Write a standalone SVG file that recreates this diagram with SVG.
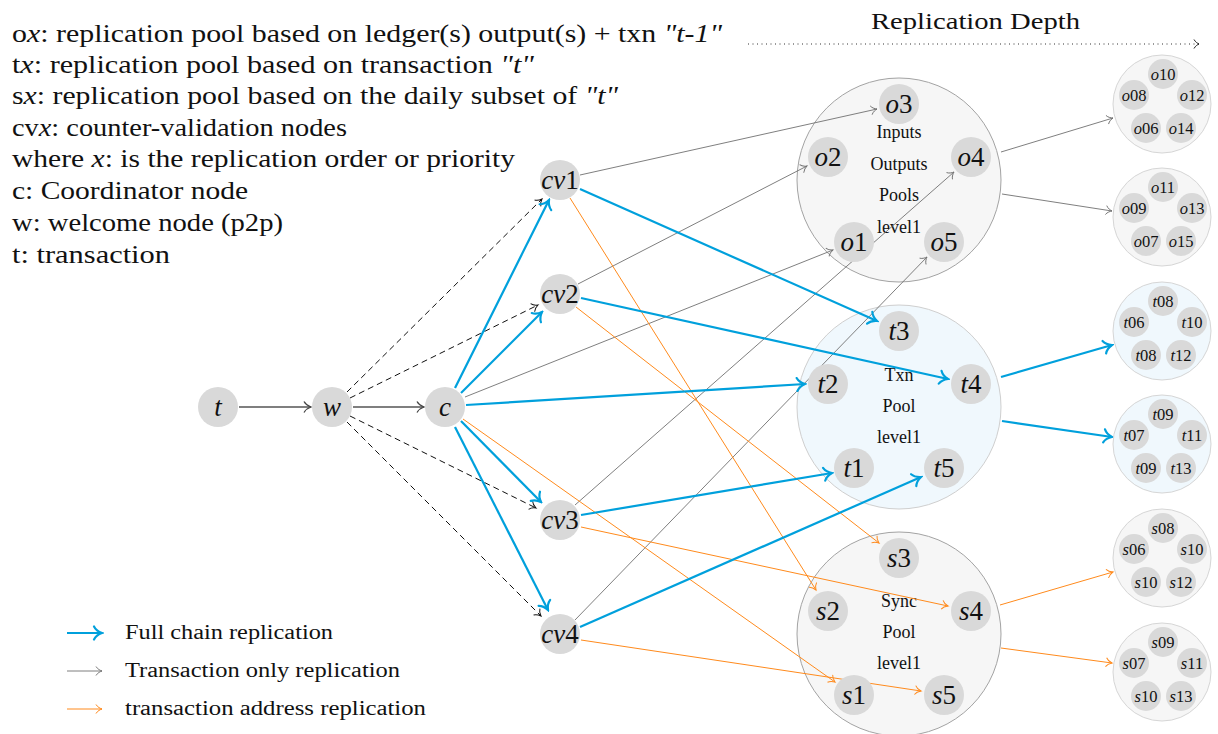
<svg xmlns="http://www.w3.org/2000/svg" width="1218" height="734" viewBox="0 0 1218 734" font-family="'Liberation Serif', 'DejaVu Serif', serif">
<style>
text{font-family:'Liberation Serif','DejaVu Serif',serif;fill:#111}
.it{font-style:italic}
.dsc{font-family:'Liberation Serif','Times New Roman',serif;font-size:26px}
.nd{fill:#d9d9d9}
.sn{fill:#d9d9d9}
.nl{font-size:27px;text-anchor:middle}
.sl{font-size:16.5px;text-anchor:middle}
.pl{font-size:18px;text-anchor:middle}
.poolG{fill:#f6f6f6;stroke:#a3a3a3;stroke-width:1}
.poolB{fill:#f0f8fd;stroke:#cfcfcf;stroke-width:1}
.spG{fill:#f6f6f6;stroke:#d6d6d6;stroke-width:1}
.spB{fill:#f0f8fd;stroke:#d6d6d6;stroke-width:1}
.blue{stroke:#00a0dc;stroke-width:2.2;fill:none;marker-end:url(#ab)}
.gray{stroke:#707070;stroke-width:0.9;fill:none;marker-end:url(#ag)}
.orng{stroke:#ff8a1c;stroke-width:1;fill:none;marker-end:url(#ao)}
.dash{stroke:#111;stroke-width:1;stroke-dasharray:6 4;fill:none;marker-end:url(#ak)}
.dark{stroke:#555;stroke-width:1.4;fill:none;marker-end:url(#ad)}
.leg{font-size:20px}
</style>
<defs>
<marker id="ab" markerUnits="userSpaceOnUse" viewBox="-10 -8 12 16" markerWidth="12" markerHeight="16" refX="0" refY="0" orient="auto"><path d="M-8,-6.5 C-6,-2.5 -2,-0.7 0,0 C-2,0.7 -6,2.5 -8,6.5" fill="none" stroke="#00a0dc" stroke-width="2.2" stroke-linecap="round"/></marker>
<marker id="ag" markerUnits="userSpaceOnUse" viewBox="-8 -6 10 12" markerWidth="10" markerHeight="12" refX="0" refY="0" orient="auto"><path d="M-6,-4.5 C-4.5,-1.8 -1.5,-0.5 0,0 C-1.5,0.5 -4.5,1.8 -6,4.5" fill="none" stroke="#707070" stroke-width="0.9"/></marker>
<marker id="ao" markerUnits="userSpaceOnUse" viewBox="-8 -6 10 12" markerWidth="10" markerHeight="12" refX="0" refY="0" orient="auto"><path d="M-6,-4.5 C-4.5,-1.8 -1.5,-0.5 0,0 C-1.5,0.5 -4.5,1.8 -6,4.5" fill="none" stroke="#ff8a1c" stroke-width="1"/></marker>
<marker id="ak" markerUnits="userSpaceOnUse" viewBox="-8 -6 10 12" markerWidth="10" markerHeight="12" refX="0" refY="0" orient="auto"><path d="M-6,-4.5 C-4.5,-1.8 -1.5,-0.5 0,0 C-1.5,0.5 -4.5,1.8 -6,4.5" fill="none" stroke="#111" stroke-width="1"/></marker>
<marker id="ad" markerUnits="userSpaceOnUse" viewBox="-9 -7 11 14" markerWidth="11" markerHeight="14" refX="0" refY="0" orient="auto"><path d="M-7,-5.5 C-5,-2 -1.8,-0.6 0,0 C-1.8,0.6 -5,2 -7,5.5" fill="none" stroke="#444" stroke-width="1.3"/></marker>
<marker id="adot" markerUnits="userSpaceOnUse" viewBox="-8 -6 10 12" markerWidth="10" markerHeight="12" refX="0" refY="0" orient="auto"><path d="M-5,-4.5 C-3.5,-1.8 -1.2,-0.5 0,0 C-1.2,0.5 -3.5,1.8 -5,4.5" fill="none" stroke="#222" stroke-width="1"/></marker>
</defs>

<g id="description" font-family="'Liberation Serif', serif" font-size="26">
<text class="dsc" x="12" y="42" textLength="710" lengthAdjust="spacingAndGlyphs">o<tspan class="it">x</tspan>: replication pool based on ledger(s) output(s) + txn  <tspan class="it">"t-1"</tspan></text>
<text class="dsc" x="12" y="73" textLength="522" lengthAdjust="spacingAndGlyphs">t<tspan class="it">x</tspan>: replication pool based on transaction <tspan class="it">"t"</tspan></text>
<text class="dsc" x="12" y="104" textLength="606" lengthAdjust="spacingAndGlyphs">s<tspan class="it">x</tspan>: replication pool based on the daily subset of <tspan class="it">"t"</tspan></text>
<text class="dsc" x="12" y="136" textLength="335" lengthAdjust="spacingAndGlyphs">cv<tspan class="it">x</tspan>: counter-validation nodes</text>
<text class="dsc" x="12" y="167" textLength="503" lengthAdjust="spacingAndGlyphs">where <tspan class="it">x</tspan>: is the replication order or priority</text>
<text class="dsc" x="12" y="199" textLength="236" lengthAdjust="spacingAndGlyphs">c: Coordinator node</text>
<text class="dsc" x="12" y="231" textLength="271" lengthAdjust="spacingAndGlyphs">w: welcome node (p2p)</text>
<text class="dsc" x="12" y="263" textLength="158" lengthAdjust="spacingAndGlyphs">t: transaction</text>
</g>

<g id="replication-depth">
<text x="871" y="29" font-size="24" textLength="209" lengthAdjust="spacingAndGlyphs">Replication Depth</text>
<line x1="748" y1="44" x2="1199" y2="44" stroke="#333" stroke-width="1" stroke-dasharray="1 3.5" marker-end="url(#adot)"/>
</g>

<g id="legend">
<line x1="67" y1="633" x2="102" y2="633" class="blue"/>
<text class="leg" x="125" y="639" textLength="208" lengthAdjust="spacingAndGlyphs">Full chain replication</text>
<line x1="67" y1="671" x2="102" y2="671" class="gray"/>
<text class="leg" x="125" y="677" textLength="275" lengthAdjust="spacingAndGlyphs">Transaction only replication</text>
<line x1="67" y1="709" x2="102" y2="709" class="orng"/>
<text class="leg" x="125" y="715" textLength="301" lengthAdjust="spacingAndGlyphs">transaction address replication</text>
</g>

<g id="pool-outputs">
<circle cx="899" cy="180" r="102" class="poolG"/>
<text class="pl" x="899" y="138">Inputs</text>
<text class="pl" x="899" y="170">Outputs</text>
<text class="pl" x="899" y="201">Pools</text>
<text class="pl" x="899" y="233">level1</text>
</g>
<g id="pool-txn">
<circle cx="899" cy="407" r="102" class="poolB"/>
<text class="pl" x="899" y="381">Txn</text>
<text class="pl" x="899" y="412">Pool</text>
<text class="pl" x="899" y="443">level1</text>
</g>
<g id="pool-sync">
<circle cx="899" cy="634" r="102" class="poolG"/>
<text class="pl" x="899" y="607">Sync</text>
<text class="pl" x="899" y="638">Pool</text>
<text class="pl" x="899" y="669">level1</text>
</g>

<g id="connectors">
<line class="dark" x1="239" y1="407" x2="311" y2="407"/>
<line class="dark" x1="353" y1="407" x2="424" y2="407"/>
<line class="dash" x1="347" y1="392" x2="542" y2="199"/>
<line class="dash" x1="350" y1="398" x2="538" y2="305"/>
<line class="dash" x1="350" y1="416" x2="536" y2="508"/>
<line class="dash" x1="347" y1="422" x2="541" y2="616"/>
<line class="gray" x1="580" y1="175" x2="877" y2="109"/>
<line class="gray" x1="578" y1="284" x2="807" y2="166"/>
<line class="gray" x1="465" y1="397" x2="833" y2="250"/>
<line class="gray" x1="575" y1="505" x2="954" y2="172"/>
<line class="gray" x1="575" y1="620" x2="927" y2="257"/>
<line class="gray" x1="1001" y1="152" x2="1113" y2="118"/>
<line class="gray" x1="1002" y1="194" x2="1112" y2="211"/>
<line class="orng" x1="570" y1="198" x2="816" y2="590"/>
<line class="orng" x1="576" y1="307" x2="879" y2="543"/>
<line class="orng" x1="463" y1="419" x2="835" y2="682"/>
<line class="orng" x1="581" y1="527" x2="948" y2="606"/>
<line class="orng" x1="581" y1="640" x2="921" y2="691"/>
<line class="orng" x1="1000" y1="605" x2="1113" y2="572"/>
<line class="orng" x1="1001" y1="648" x2="1112" y2="663"/>
<line class="blue" x1="455" y1="388" x2="549" y2="200"/>
<line class="blue" x1="461" y1="393" x2="542" y2="312"/>
<line class="blue" x1="461" y1="421" x2="541" y2="502"/>
<line class="blue" x1="455" y1="427" x2="548" y2="610"/>
<line class="blue" x1="466" y1="405" x2="805" y2="384"/>
<line class="blue" x1="580" y1="189" x2="877" y2="321"/>
<line class="blue" x1="581" y1="298" x2="948" y2="379"/>
<line class="blue" x1="581" y1="515" x2="832" y2="473"/>
<line class="blue" x1="580" y1="627" x2="921" y2="477"/>
<line class="blue" x1="1001" y1="377" x2="1112" y2="345"/>
<line class="blue" x1="1002" y1="421" x2="1112" y2="437"/>
</g>

<g id="node-t"><circle cx="218" cy="407" r="20" class="nd"/><text class="nl it" x="218" y="416">t</text></g>
<g id="node-w"><circle cx="332" cy="407" r="20" class="nd"/><text class="nl it" x="332" y="416">w</text></g>
<g id="node-c"><circle cx="445" cy="407" r="20" class="nd"/><text class="nl it" x="445" y="416">c</text></g>
<g id="node-cv1"><circle cx="560" cy="180" r="20" class="nd"/><text class="nl" x="560" y="189"><tspan class="it">cv</tspan>1</text></g>
<g id="node-cv2"><circle cx="560" cy="294" r="20" class="nd"/><text class="nl" x="560" y="303"><tspan class="it">cv</tspan>2</text></g>
<g id="node-cv3"><circle cx="560" cy="520" r="20" class="nd"/><text class="nl" x="560" y="529"><tspan class="it">cv</tspan>3</text></g>
<g id="node-cv4"><circle cx="560" cy="634" r="20" class="nd"/><text class="nl" x="560" y="643"><tspan class="it">cv</tspan>4</text></g>

<g id="node-o3"><circle cx="899" cy="104" r="20" class="nd"/><text class="nl" x="899" y="113"><tspan class="it">o</tspan>3</text></g>
<g id="node-o2"><circle cx="828" cy="157" r="20" class="nd"/><text class="nl" x="828" y="166"><tspan class="it">o</tspan>2</text></g>
<g id="node-o4"><circle cx="971" cy="157" r="20" class="nd"/><text class="nl" x="971" y="166"><tspan class="it">o</tspan>4</text></g>
<g id="node-o1"><circle cx="854" cy="242" r="20" class="nd"/><text class="nl" x="854" y="251"><tspan class="it">o</tspan>1</text></g>
<g id="node-o5"><circle cx="944" cy="242" r="20" class="nd"/><text class="nl" x="944" y="251"><tspan class="it">o</tspan>5</text></g>

<g id="node-t3"><circle cx="899" cy="331" r="20" class="nd"/><text class="nl" x="899" y="340"><tspan class="it">t</tspan>3</text></g>
<g id="node-t2"><circle cx="828" cy="384" r="20" class="nd"/><text class="nl" x="828" y="393"><tspan class="it">t</tspan>2</text></g>
<g id="node-t4"><circle cx="971" cy="384" r="20" class="nd"/><text class="nl" x="971" y="393"><tspan class="it">t</tspan>4</text></g>
<g id="node-t1"><circle cx="854" cy="468" r="20" class="nd"/><text class="nl" x="854" y="477"><tspan class="it">t</tspan>1</text></g>
<g id="node-t5"><circle cx="944" cy="468" r="20" class="nd"/><text class="nl" x="944" y="477"><tspan class="it">t</tspan>5</text></g>

<g id="node-s3"><circle cx="899" cy="558" r="20" class="nd"/><text class="nl" x="899" y="567"><tspan class="it">s</tspan>3</text></g>
<g id="node-s2"><circle cx="828" cy="611" r="20" class="nd"/><text class="nl" x="828" y="620"><tspan class="it">s</tspan>2</text></g>
<g id="node-s4"><circle cx="971" cy="611" r="20" class="nd"/><text class="nl" x="971" y="620"><tspan class="it">s</tspan>4</text></g>
<g id="node-s1"><circle cx="854" cy="695" r="20" class="nd"/><text class="nl" x="854" y="704"><tspan class="it">s</tspan>1</text></g>
<g id="node-s5"><circle cx="944" cy="695" r="20" class="nd"/><text class="nl" x="944" y="704"><tspan class="it">s</tspan>5</text></g>

<g id="pool-o-a">
<circle cx="1162" cy="104" r="49" class="spG"/>
<circle cx="1163" cy="74" r="15" class="sn"/><text class="sl" x="1163" y="79.5"><tspan class="it">o</tspan>10</text>
<circle cx="1134" cy="95" r="15" class="sn"/><text class="sl" x="1134" y="100.5"><tspan class="it">o</tspan>08</text>
<circle cx="1192" cy="95" r="15" class="sn"/><text class="sl" x="1192" y="100.5"><tspan class="it">o</tspan>12</text>
<circle cx="1146" cy="128" r="15" class="sn"/><text class="sl" x="1146" y="133.5"><tspan class="it">o</tspan>06</text>
<circle cx="1181" cy="128" r="15" class="sn"/><text class="sl" x="1181" y="133.5"><tspan class="it">o</tspan>14</text>
</g>
<g id="pool-o-b">
<circle cx="1162" cy="217" r="49" class="spG"/>
<circle cx="1163" cy="187" r="15" class="sn"/><text class="sl" x="1163" y="192.5"><tspan class="it">o</tspan>11</text>
<circle cx="1134" cy="208" r="15" class="sn"/><text class="sl" x="1134" y="213.5"><tspan class="it">o</tspan>09</text>
<circle cx="1192" cy="208" r="15" class="sn"/><text class="sl" x="1192" y="213.5"><tspan class="it">o</tspan>13</text>
<circle cx="1146" cy="241" r="15" class="sn"/><text class="sl" x="1146" y="246.5"><tspan class="it">o</tspan>07</text>
<circle cx="1181" cy="241" r="15" class="sn"/><text class="sl" x="1181" y="246.5"><tspan class="it">o</tspan>15</text>
</g>
<g id="pool-t-a">
<circle cx="1162" cy="331" r="49" class="spB"/>
<circle cx="1163" cy="301" r="15" class="sn"/><text class="sl" x="1163" y="306.5"><tspan class="it">t</tspan>08</text>
<circle cx="1134" cy="322" r="15" class="sn"/><text class="sl" x="1134" y="327.5"><tspan class="it">t</tspan>06</text>
<circle cx="1192" cy="322" r="15" class="sn"/><text class="sl" x="1192" y="327.5"><tspan class="it">t</tspan>10</text>
<circle cx="1146" cy="355" r="15" class="sn"/><text class="sl" x="1146" y="360.5"><tspan class="it">t</tspan>08</text>
<circle cx="1181" cy="355" r="15" class="sn"/><text class="sl" x="1181" y="360.5"><tspan class="it">t</tspan>12</text>
</g>
<g id="pool-t-b">
<circle cx="1162" cy="444" r="49" class="spB"/>
<circle cx="1163" cy="414" r="15" class="sn"/><text class="sl" x="1163" y="419.5"><tspan class="it">t</tspan>09</text>
<circle cx="1134" cy="435" r="15" class="sn"/><text class="sl" x="1134" y="440.5"><tspan class="it">t</tspan>07</text>
<circle cx="1192" cy="435" r="15" class="sn"/><text class="sl" x="1192" y="440.5"><tspan class="it">t</tspan>11</text>
<circle cx="1146" cy="468" r="15" class="sn"/><text class="sl" x="1146" y="473.5"><tspan class="it">t</tspan>09</text>
<circle cx="1181" cy="468" r="15" class="sn"/><text class="sl" x="1181" y="473.5"><tspan class="it">t</tspan>13</text>
</g>
<g id="pool-s-a">
<circle cx="1162" cy="558" r="49" class="spG"/>
<circle cx="1163" cy="528" r="15" class="sn"/><text class="sl" x="1163" y="533.5"><tspan class="it">s</tspan>08</text>
<circle cx="1134" cy="549" r="15" class="sn"/><text class="sl" x="1134" y="554.5"><tspan class="it">s</tspan>06</text>
<circle cx="1192" cy="549" r="15" class="sn"/><text class="sl" x="1192" y="554.5"><tspan class="it">s</tspan>10</text>
<circle cx="1146" cy="582" r="15" class="sn"/><text class="sl" x="1146" y="587.5"><tspan class="it">s</tspan>10</text>
<circle cx="1181" cy="582" r="15" class="sn"/><text class="sl" x="1181" y="587.5"><tspan class="it">s</tspan>12</text>
</g>
<g id="pool-s-b">
<circle cx="1162" cy="672" r="49" class="spG"/>
<circle cx="1163" cy="642" r="15" class="sn"/><text class="sl" x="1163" y="647.5"><tspan class="it">s</tspan>09</text>
<circle cx="1134" cy="663" r="15" class="sn"/><text class="sl" x="1134" y="668.5"><tspan class="it">s</tspan>07</text>
<circle cx="1192" cy="663" r="15" class="sn"/><text class="sl" x="1192" y="668.5"><tspan class="it">s</tspan>11</text>
<circle cx="1146" cy="696" r="15" class="sn"/><text class="sl" x="1146" y="701.5"><tspan class="it">s</tspan>10</text>
<circle cx="1181" cy="696" r="15" class="sn"/><text class="sl" x="1181" y="701.5"><tspan class="it">s</tspan>13</text>
</g>
</svg>
